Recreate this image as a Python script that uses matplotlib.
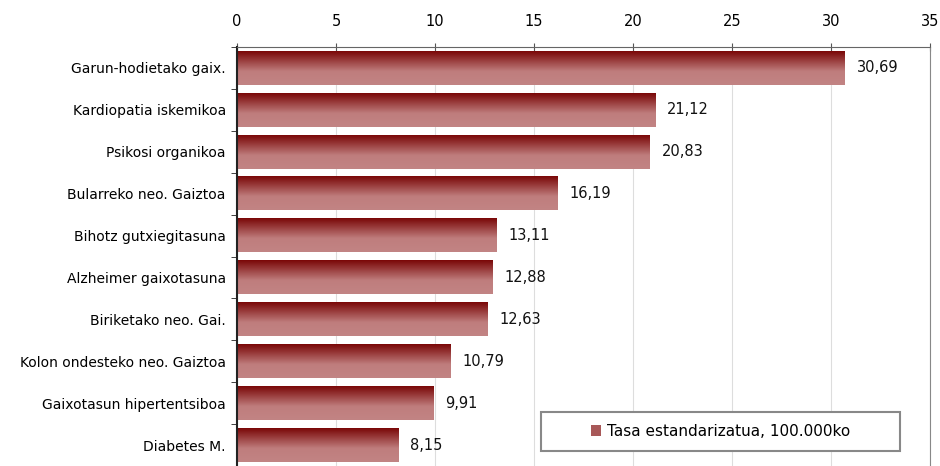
import matplotlib.pyplot as plt
import numpy as np
from matplotlib.colors import LinearSegmentedColormap
from matplotlib.patches import Patch, Rectangle

# Data
categories = [
    "Garun-hodietako gaix.",
    "Kardiopatia iskemikoa",
    "Psikosi organikoa",
    "Bularreko neo. Gaiztoa",
    "Bihotz gutxiegitasuna",
    "Alzheimer gaixotasuna",
    "Biriketako neo. Gai.",
    "Kolon ondesteko neo. Gaiztoa",
    "Gaixotasun hipertentsiboa",
    "Diabetes M.",
]
values = [30.69, 21.12, 20.83, 16.19, 13.11, 12.88, 12.63, 10.79, 9.91, 8.15]
value_labels = ["30,69", "21,12", "20,83", "16,19", "13,11", "12,88", "12,63", "10,79", "9,91", "8,15"]
legend_label = "Tasa estandarizatua, 100.000ko"

plt.rcParams["font.family"] = "DejaVu Sans"

fig = plt.figure(figsize=(9.4, 4.66), dpi=100)
ax = fig.add_axes([0.2521, 0.0, 0.7374, 0.8991])

# gradient: dark red on top, lighter pink lower down
cmap = LinearSegmentedColormap.from_list(
    "bar", [(0.0, "#7a0808"), (0.6, "#bf7d7d"), (1.0, "#c28484")]
)
grad = np.linspace(0, 1, 64).reshape(-1, 1)

y = np.arange(len(categories))
bars = ax.barh(y, values, height=0.8, color="none", edgecolor="none", zorder=2)
for b in bars:
    x0, y0, w, h = b.get_x(), b.get_y(), b.get_width(), b.get_height()
    ax.imshow(grad, cmap=cmap, aspect="auto", origin="upper",
              extent=[x0, x0 + w, y0 + h, y0], zorder=2, interpolation="bilinear")

for yi, v, lab in zip(y, values, value_labels):
    ax.text(v + 0.6, yi, lab, va="center", ha="left", fontsize=10.5, color="#111111")

ax.set_xlim(0, 35)
ax.set_ylim(len(categories) - 0.5, -0.5)
ax.set_xticks(np.arange(0, 36, 5))
ax.xaxis.tick_top()
ax.tick_params(axis="x", direction="inout", length=6, pad=10, labelsize=10.5,
               color="#555555")
ax.set_yticks(y)
ax.set_yticklabels(categories, fontsize=10)
ax.set_yticks(np.arange(-0.5, len(categories)), minor=True)
ax.tick_params(axis="y", which="major", length=0, pad=8)
ax.tick_params(axis="y", which="minor", length=4, direction="out", color="#222222")

ax.grid(axis="x", color="#dddddd", linewidth=0.8, zorder=0)
ax.set_axisbelow(True)
ax.spines["left"].set_color("#222222")
ax.spines["left"].set_linewidth(1.5)
ax.spines["top"].set_color("#666666")
ax.spines["right"].set_color("#888888")
ax.spines["bottom"].set_visible(False)

# legend: wide box with the entry centred in it
box = Rectangle((0.4387, 0.0358), 0.518, 0.0931, transform=ax.transAxes,
                facecolor="white", edgecolor="#888888", linewidth=1.5, zorder=5)
ax.add_patch(box)
handle = Patch(facecolor="#a85858", edgecolor="none")
leg = ax.legend([handle], [legend_label], loc="center",
                bbox_to_anchor=(0.6977, 0.0823), fontsize=11, frameon=False,
                handlelength=0.7, handleheight=0.7, handletextpad=0.4,
                borderpad=0.3, borderaxespad=0)
leg.set_zorder(6)

fig.savefig("out.png", dpi=100)
